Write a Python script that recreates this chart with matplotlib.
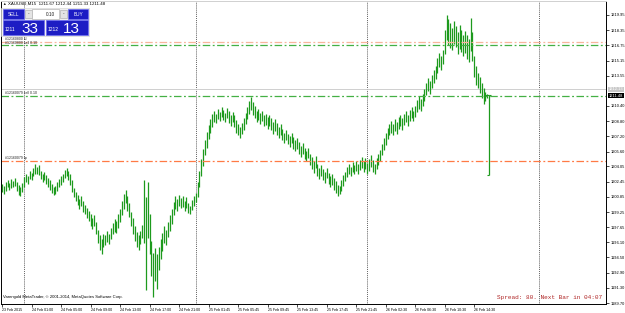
import matplotlib
matplotlib.use("Agg")
from matplotlib import pyplot as plt
from matplotlib import transforms
from matplotlib.patches import Rectangle

W, H = 625, 313

# XAUUSD M15 bars, first bar 23 Feb 2015 21:00
bar_high = [
    1202.2, 1202.0, 1202.4, 1202.6, 1202.3, 1202.7, 1202.5, 1202.8, 1202.4, 1202.1, 1201.9, 1202.3,
    1202.9, 1203.2, 1203.0, 1203.6, 1203.4, 1203.9, 1204.3, 1204.0, 1204.2,
    1203.6, 1203.3, 1203.5, 1203.1, 1202.8, 1202.6,
    1202.2, 1201.9, 1202.0, 1202.4,
    1202.7, 1203.0, 1203.3, 1203.7, 1203.9, 1203.6, 1203.2,
    1202.6, 1201.8, 1201.4,
    1201.0, 1200.6, 1200.9, 1200.4, 1200.0, 1199.7,
    1199.4, 1199.0, 1198.6, 1198.9, 1198.2,
    1197.4, 1196.8, 1196.4,
    1197.0, 1196.8, 1197.3, 1197.0, 1197.6,
    1198.1, 1198.5, 1198.3, 1199.0, 1199.6,
    1200.4, 1201.2, 1201.6, 1200.9, 1200.2, 1199.3,
    1198.6, 1197.8, 1197.2, 1196.8, 1197.3, 1197.9,
    1202.6, 1200.8, 1202.4, 1199.0,
    1196.2, 1195.0, 1195.5, 1194.8, 1195.6, 1196.4,
    1197.1, 1197.8, 1197.4, 1198.2, 1198.9, 1199.6,
    1200.3, 1200.9, 1200.6, 1201.0, 1200.7, 1200.9, 1200.4, 1200.8, 1200.2, 1199.9, 1200.5, 1200.9, 1201.3,
    1202.4, 1203.6, 1204.8, 1205.9, 1206.8, 1207.7, 1208.4, 1209.0, 1209.6,
    1209.9, 1209.6, 1210.1, 1209.8, 1210.3, 1210.0, 1209.7, 1210.2, 1209.9, 1209.5, 1209.8, 1209.4, 1208.9,
    1208.5, 1208.2, 1208.6, 1209.1, 1209.7,
    1210.3, 1210.9, 1211.3, 1210.8, 1210.4, 1209.9,
    1210.1, 1209.7, 1209.9, 1209.4, 1209.6, 1209.2, 1209.5,
    1209.1, 1208.7, 1209.0, 1208.6, 1208.2, 1208.5, 1208.0, 1207.6,
    1207.9, 1207.5, 1207.2, 1207.6, 1207.1, 1206.8, 1207.0, 1206.6, 1206.2,
    1206.5, 1206.0, 1205.7, 1206.0, 1205.4,
    1205.0, 1204.6, 1205.1, 1204.3, 1203.9,
    1204.2, 1203.8, 1203.5, 1203.9, 1203.4, 1203.0, 1203.3, 1202.8, 1202.5,
    1202.1, 1202.0, 1202.6, 1203.1, 1203.5,
    1204.0, 1204.3, 1204.0, 1204.5, 1204.2, 1204.6, 1204.3, 1204.7,
    1205.0, 1204.6, 1204.9, 1204.4, 1204.8, 1205.2, 1204.7, 1204.3, 1204.9, 1205.3, 1205.8,
    1206.4, 1207.0, 1207.6, 1208.1, 1208.5,
    1208.8, 1208.5, 1209.0, 1208.7, 1209.2, 1209.5, 1209.1, 1209.6, 1209.9, 1209.5, 1210.0, 1210.3, 1209.9, 1210.4,
    1211.0, 1211.4, 1211.1, 1211.7, 1212.2,
    1212.8, 1213.3, 1213.0, 1213.7, 1214.2, 1214.6,
    1215.4, 1216.0, 1215.6, 1216.3,
    1218.4, 1219.9, 1219.5, 1219.1,
    1218.6, 1219.3, 1218.8, 1218.2, 1218.9, 1218.4, 1217.8, 1218.3,
    1217.9, 1217.4, 1219.6, 1218.2,
    1215.6, 1214.6, 1213.9,
    1213.4, 1212.8, 1212.3,
    1211.9, 1211.7, 1211.6,
]
bar_low = [
    1201.4, 1201.2, 1201.5, 1201.9, 1201.6, 1201.8, 1201.9, 1202.0, 1201.5, 1201.0, 1200.9, 1201.4,
    1201.9, 1202.4, 1202.2, 1202.7, 1202.6, 1203.0, 1203.3, 1203.2, 1203.1,
    1202.7, 1202.4, 1202.6, 1202.2, 1201.9, 1201.6,
    1201.3, 1201.0, 1201.2, 1201.5,
    1201.9, 1202.1, 1202.4, 1202.8, 1203.0, 1202.6, 1202.1,
    1201.4, 1200.8, 1200.4,
    1200.0, 1199.6, 1199.9, 1199.3, 1199.0, 1198.6,
    1198.3, 1197.8, 1197.5, 1197.8, 1197.0,
    1196.0, 1195.3, 1194.8,
    1195.6, 1195.8, 1196.1, 1195.9, 1196.4,
    1196.9, 1197.2, 1197.1, 1197.6, 1198.2,
    1198.9, 1199.6, 1200.2, 1199.4, 1198.7, 1197.8,
    1197.0, 1196.2, 1195.6, 1195.3, 1195.9, 1196.5,
    1196.0, 1191.1, 1196.5, 1194.8,
    1192.5, 1190.3, 1192.0, 1191.2, 1193.2, 1194.3,
    1195.2, 1196.0, 1195.8, 1196.6, 1197.3, 1198.0,
    1198.9, 1199.6, 1199.4, 1199.9, 1199.7, 1199.8, 1199.4, 1199.7, 1199.2, 1199.0, 1199.5, 1199.9, 1200.3,
    1200.8, 1201.9, 1203.0, 1204.1, 1205.2, 1206.0, 1206.9, 1207.6, 1208.2,
    1208.7, 1208.6, 1209.0, 1208.8, 1209.2, 1208.9, 1208.7, 1209.1, 1208.6, 1208.3, 1208.7, 1208.2, 1207.6,
    1207.3, 1207.0, 1207.5, 1207.9, 1208.5,
    1209.0, 1209.6, 1210.0, 1209.5, 1209.1, 1208.7,
    1208.9, 1208.5, 1208.8, 1208.3, 1208.4, 1208.0, 1208.3,
    1207.9, 1207.5, 1207.8, 1207.3, 1207.0, 1207.3, 1206.8, 1206.5,
    1206.8, 1206.4, 1206.1, 1206.5, 1205.9, 1205.7, 1205.9, 1205.4, 1205.0,
    1205.3, 1204.8, 1204.6, 1204.9, 1204.2,
    1203.8, 1203.4, 1203.9, 1203.0, 1202.7,
    1203.0, 1202.6, 1202.3, 1202.8, 1202.2, 1201.9, 1202.1, 1201.6, 1201.3,
    1200.9, 1201.1, 1201.5, 1202.0, 1202.5,
    1202.9, 1203.3, 1203.0, 1203.5, 1203.2, 1203.6, 1203.2, 1203.7,
    1203.9, 1203.5, 1203.8, 1203.3, 1203.6, 1204.0, 1203.5, 1203.2, 1203.8, 1204.2, 1204.6,
    1205.2, 1205.8, 1206.3, 1206.9, 1207.3,
    1207.6, 1207.3, 1207.8, 1207.5, 1208.0, 1208.3, 1207.9, 1208.4, 1208.7, 1208.3, 1208.8, 1209.1, 1208.8, 1209.2,
    1209.8, 1210.1, 1209.9, 1210.4, 1210.9,
    1211.5, 1212.0, 1211.7, 1212.3, 1212.8, 1213.2,
    1213.9, 1214.5, 1214.2, 1214.8,
    1215.9, 1217.3, 1216.8, 1216.5,
    1216.3, 1216.9, 1216.6, 1215.9, 1216.4, 1216.1, 1215.6, 1216.0,
    1215.3, 1215.0, 1216.2, 1215.1,
    1213.4, 1212.6, 1212.3,
    1211.8, 1211.2, 1210.6,
    1210.9, 1211.2, 1203.1,
]

time_tick_bars = [0, 16, 32, 48, 64, 80, 96, 112, 128, 144, 160, 176, 192, 208, 224, 240, 256]
time_tick_labels = ["23 Feb 2015", "24 Feb 01:00", "24 Feb 05:00", "24 Feb 09:00", "24 Feb 13:00",
                    "24 Feb 17:00", "24 Feb 21:00", "25 Feb 01:45", "25 Feb 05:45", "25 Feb 09:45",
                    "25 Feb 13:45", "25 Feb 17:45", "25 Feb 21:45", "26 Feb 02:30", "26 Feb 06:30",
                    "26 Feb 10:30", "26 Feb 14:30"]
day_start_bars = [12, 105, 198, 291]

price_ticks = [1219.95, 1218.35, 1216.75, 1215.15, 1213.55, 1210.40, 1208.80, 1207.20, 1205.60,
               1204.05, 1202.45, 1200.85, 1199.25, 1197.65, 1196.10, 1194.50, 1192.90, 1191.30, 1189.70]

order_prices = [1217.10, 1216.75, 1211.48, 1204.65]
order_labels = ["#12160800 sl", "#12160800 sell 0.10", "#12160079 sell 0.10", "#12160079 tp"]
order_colors = ["#f9b59c", "#44b044", "#44b044", "#ff7a45"]

bid_price = 1211.48
ask_price = 1212.13
last_open = 1211.5
last_close = 1211.5

BAR_COLOR = "#1d9a1d"


def px_box(fig, x, y, w, h, fc, ec="none", lw=0.6):
    # rectangle in pixel coordinates measured from the top-left corner
    r = Rectangle((x / W, 1 - (y + h) / H), w / W, h / H, transform=fig.transFigure,
                  facecolor=fc, edgecolor=ec, linewidth=lw)
    fig.add_artist(r)


def px_text(fig, x, y, s, **kw):
    fig.text(x / W, 1 - y / H, s, **kw)


def draw_panel(fig):
    # one click trading panel
    px_box(fig, 1, 8, 88, 28, "#f0f0f0", "#d0d0d0", 0.4)
    px_box(fig, 3, 9, 21, 10, "#1d1dc4", "#6a6af0", 0.5)
    px_text(fig, 13.5, 14, "SELL", fontsize=3.4, color="white", ha="center", va="center")
    px_box(fig, 25, 10, 7, 8, "#e4e4e4", "#a8a8a8", 0.4)
    px_text(fig, 28.5, 14, "-", fontsize=3.4, color="#404040", ha="center", va="center")
    px_box(fig, 32, 9, 27, 10, "white", "#a8a8a8", 0.4)
    px_text(fig, 55, 14, "0.10", fontsize=3.4, color="#202020", ha="right", va="center")
    px_box(fig, 60, 10, 7, 8, "#e4e4e4", "#a8a8a8", 0.4)
    px_text(fig, 63.5, 14, "-", fontsize=3.4, color="#404040", ha="center", va="center")
    px_box(fig, 68, 9, 20, 10, "#1d1dc4", "#6a6af0", 0.5)
    px_text(fig, 78, 14, "BUY", fontsize=3.4, color="white", ha="center", va="center")

    px_box(fig, 3, 20, 41, 15, "#1d1dc4", "#6a6af0", 0.5)
    px_text(fig, 5, 31, "1211", fontsize=3.6, color="white", ha="left", va="baseline")
    px_text(fig, 21, 33, "33", fontsize=11, color="white", ha="left", va="baseline")
    px_box(fig, 46, 20, 42, 15, "#1d1dc4", "#6a6af0", 0.5)
    px_text(fig, 48, 31, "1212", fontsize=3.6, color="white", ha="left", va="baseline")
    px_text(fig, 63, 33, "13", fontsize=11, color="white", ha="left", va="baseline")


def main():
    plt.rcParams["font.family"] = ["Liberation Sans", "DejaVu Sans"]
    fig = plt.figure(figsize=(W / 100, H / 100), dpi=100)
    fig.patch.set_facecolor("white")
    ax = fig.add_axes([1 / W, 9 / H, 605 / W, 303 / H])

    n = len(bar_high)
    x = list(range(n))
    ax.vlines(x, bar_low, bar_high, color=BAR_COLOR, linewidth=0.9)
    # ticks of the still forming last bar
    ax.hlines(last_close, n - 1, n - 1 + 0.9, color=BAR_COLOR, linewidth=0.8)
    ax.hlines(bar_low[-1], n - 1 - 0.9, n - 1, color=BAR_COLOR, linewidth=0.8)
    ax.hlines(last_open, n - 4, n - 1, color=BAR_COLOR, linewidth=0.8)

    for d in day_start_bars:
        ax.axvline(d, color="#303030", linewidth=0.6, linestyle=(0, (1, 1.3)), zorder=1)

    ax.axhline(ask_price, color="#c8c8c8", linewidth=0.6, zorder=1)

    trans = transforms.blended_transform_factory(ax.transAxes, ax.transData)
    for price, label, col in zip(order_prices, order_labels, order_colors):
        ax.axhline(price, color=col, linewidth=0.9, linestyle=(0, (6, 2, 1.5, 2)), zorder=2)
        ax.annotate(label, xy=(0.007, price), xycoords=trans, xytext=(0, 0.6),
                    textcoords="offset points", fontsize=2.5, va="bottom", ha="left", color="#202020")

    ax.set_xlim(-0.54, 327.4)
    ax.set_ylim(1189.60, 1221.42)

    ax.set_xticks(time_tick_bars)
    ax.set_xticklabels(time_tick_labels)
    for lbl in ax.get_xticklabels():
        lbl.set_horizontalalignment("left")
    ax.yaxis.tick_right()
    ax.set_yticks(price_ticks)
    ax.set_yticklabels([f"{p:.2f}" for p in price_ticks])
    ax.tick_params(axis="x", direction="out", length=2, width=0.5, labelsize=2.6, pad=1)
    ax.tick_params(axis="y", direction="out", length=2, width=0.5, labelsize=2.9, pad=1.2)
    for s in ax.spines.values():
        s.set_color("black")
        s.set_linewidth(0.7)
    ax.spines["top"].set_color("#d0d0d0")

    # price labels on the scale
    ax.text(1.004, ask_price, f"{ask_price:.2f}", transform=trans, fontsize=2.9, color="white",
            va="center", ha="left", bbox=dict(boxstyle="square,pad=0.2", fc="#c8c8c8", ec="none"))
    ax.text(1.004, bid_price, f"{bid_price:.2f}", transform=trans, fontsize=2.9, color="white",
            va="center", ha="left", bbox=dict(boxstyle="square,pad=0.2", fc="black", ec="none"))

    px_text(fig, 2, 4, "\u25b2", fontsize=2.6, va="center", ha="left", color="#202020")
    px_text(fig, 8, 4, "XAUUSD,M15  1211.67 1212.44 1211.33 1211.48", fontsize=3.2,
            va="center", ha="left", color="black")
    draw_panel(fig)

    px_text(fig, 3, 297, "Varengold MetaTrader, \u00a9 2001-2014, MetaQuotes Software Corp.",
            fontsize=3.0, va="center", ha="left", color="black")
    px_text(fig, 602, 297, "Spread: 80. Next Bar in 04:07", fontsize=4.4, va="center", ha="right",
            color="#b02828", family="Liberation Mono")

    fig.savefig("out.png", dpi=100)
    return 0


if __name__ == "__main__":
    main()
